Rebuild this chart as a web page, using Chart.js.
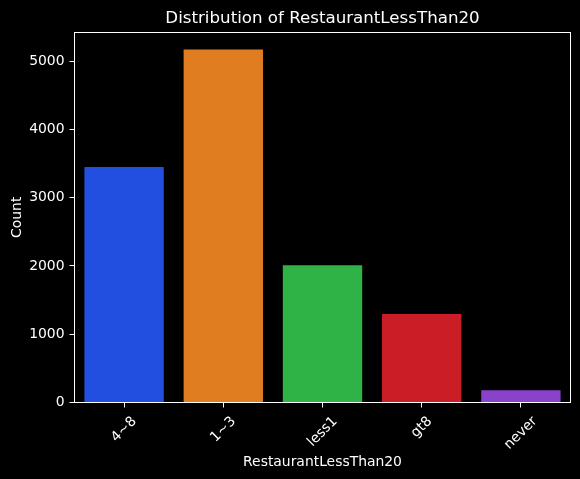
<!DOCTYPE html>
<html>
<head>
<meta charset="utf-8">
<script src="https://cdn.jsdelivr.net/npm/chart.js@4"></script>
<style>
html, body { margin: 0; padding: 0; background: #000; }
canvas { display: block; }
</style>
</head>
<body>
<canvas id="chart" width="580" height="479"></canvas>
<script>
var categories = ['4~8', '1~3', 'less1', 'gt8', 'never'];
var counts = [3450, 5170, 2010, 1295, 180];
var barColors = ['#224FDF', '#DF7D20', '#30B346', '#CB1D25', '#8A42CB'];
var yTicks = [0, 1000, 2000, 3000, 4000, 5000];
var yMax = 5425;

var fontName = '"DejaVu Sans"';

// frame round the plot and the rotated x labels, centred on their ticks
var framePlugin = {
	id: 'frame',
	afterDraw: function (chart) {
		var ctx = chart.ctx;
		var area = chart.chartArea;
		var x = chart.scales.x;
		ctx.save();
		ctx.strokeStyle = '#fff';
		ctx.lineWidth = 1;
		ctx.strokeRect(Math.floor(area.left) + 0.5, Math.floor(area.top) + 0.5,
			Math.floor(area.right) - Math.floor(area.left), Math.floor(area.bottom) - Math.floor(area.top));
		ctx.fillStyle = '#fff';
		ctx.font = '13.9px ' + fontName;
		ctx.textAlign = 'center';
		ctx.textBaseline = 'middle';
		categories.forEach(function (label, i) {
			var w = ctx.measureText(label).width;
			var half = (w + 13) * Math.SQRT1_2 / 2;
			ctx.save();
			ctx.translate(x.getPixelForValue(i), area.bottom + 12 + half);
			ctx.rotate(-Math.PI / 4);
			ctx.fillText(label, 0, 0);
			ctx.restore();
		});
		ctx.restore();
	}
};

var chart = new Chart(document.getElementById('chart').getContext('2d'), {
	type: 'bar',
	data: {
		labels: categories,
		datasets: [{
			data: counts,
			backgroundColor: barColors,
			borderWidth: 0,
			barPercentage: 0.8,
			categoryPercentage: 1
		}]
	},
	options: {
		responsive: false,
		animation: false,
		layout: { padding: { left: 9.5, right: 9.5, top: 0, bottom: 8 } },
		plugins: {
			legend: { display: false },
			tooltip: { enabled: false },
			title: {
				display: true,
				fullSize: false,
				text: 'Distribution of RestaurantLessThan20',
				color: '#fff',
				font: { family: fontName, size: 16.67, weight: 'normal', lineHeight: 1.2 },
				padding: { top: 9, bottom: 3 }
			}
		},
		scales: {
			x: {
				grid: { offset: false, drawOnChartArea: false, drawTicks: true, tickLength: 5, tickColor: '#fff' },
				border: { color: '#fff' },
				ticks: { display: false },
				title: {
					display: true,
					text: 'RestaurantLessThan20',
					color: '#fff',
					font: { family: fontName, size: 13.9 },
					padding: { top: 0, bottom: 0 }
				},
				afterFit: function (scale) { scale.height = 68.5; }
			},
			y: {
				min: 0,
				max: yMax,
				grid: { drawOnChartArea: false, drawTicks: true, tickLength: 5, tickColor: '#fff' },
				border: { color: '#fff' },
				afterBuildTicks: function (scale) {
					scale.ticks = yTicks.map(function (v) { return { value: v }; });
				},
				ticks: {
					color: '#fff',
					padding: 5,
					font: { family: fontName, size: 13.9 },
					callback: function (v) { return String(v); }
				},
				title: {
					display: true,
					text: 'Count',
					color: '#fff',
					font: { family: fontName, size: 13.9 },
					padding: { top: 0, bottom: 0 }
				},
				afterFit: function (scale) { scale.width = 65; }
			}
		}
	},
	plugins: [framePlugin]
});
</script>
</body>
</html>
